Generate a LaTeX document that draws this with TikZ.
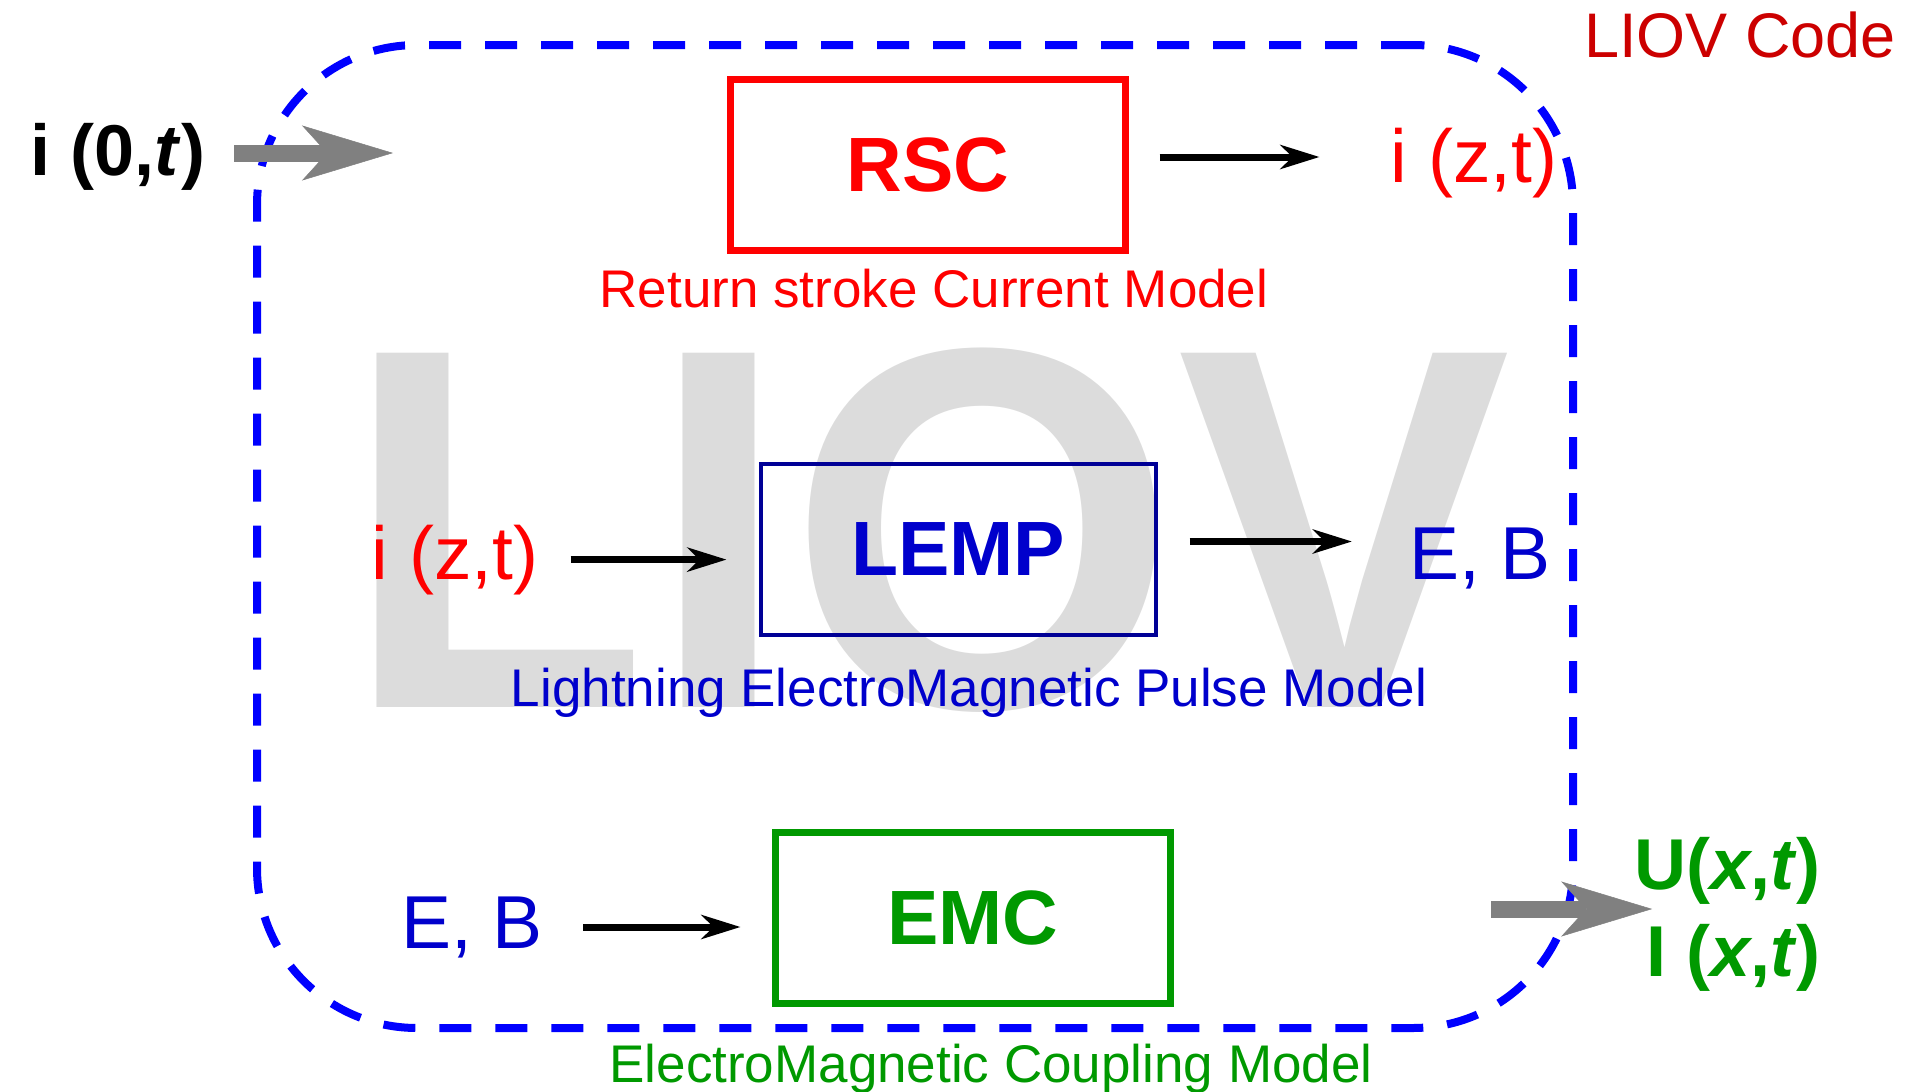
\documentclass[tikz,border=0pt]{standalone}
\usepackage{fontspec}
\setmainfont{Liberation Sans}
\usetikzlibrary{arrows.meta}

\definecolor{liovblue}{RGB}{0,0,255}
\definecolor{lempnavy}{RGB}{0,0,150}
\definecolor{lempblue}{RGB}{0,0,204}
\definecolor{emcgreen}{RGB}{0,153,0}
\definecolor{codered}{RGB}{204,0,0}
\definecolor{liovgray}{RGB}{220,220,220}
\definecolor{arrowgray}{RGB}{128,128,128}

\tikzset{
  modelbox/.style={draw,line width=7pt,minimum width=395pt,minimum height=171pt,
    inner sep=0pt,outer sep=0pt,font=\fontsize{77}{77}\selectfont\bfseries},
  caption/.style={anchor=base,inner sep=0pt,font=\fontsize{53}{53}\selectfont},
  signal/.style={anchor=base,inner sep=0pt,font=\fontsize{75}{75}\selectfont},
  flow/.style={line width=7pt,-{Stealth[length=39pt,width=24pt,inset=12pt]}},
  bigflow/.style={arrowgray,line width=17pt,
    -{Stealth[length=91pt,width=55pt,inset=25pt,line width=0.5pt]}}
}

\begin{document}
\begin{tikzpicture}[x=1pt,y=-1pt]
  \useasboundingbox (0,0) rectangle (1909,1092);

  % Watermark
  \node[anchor=base,inner sep=0pt,text=liovgray,font=\fontsize{500}{500}\selectfont\bfseries]
    (watermark) at (927,707) {\scalebox{1}[1.03]{LIOV}};

  % LIOV code frame
  \node[draw=liovblue,line width=8pt,dash pattern=on 32pt off 24pt,rounded corners=160pt,
    minimum width=1316pt,minimum height=983pt,inner sep=0pt] (liov) at (915,536.5) {};
  \node[anchor=base,inner sep=0pt,text=codered,font=\fontsize{63}{63}\selectfont]
    (liovlabel) at (1740,57) {LIOV Code};

  % Return stroke current model
  \node[modelbox,red] (rsc) at (928,165) {RSC};
  \node[caption,red] (rsclabel) at (934,307) {Return stroke Current Model};
  \node[signal,red] (izttop) at (1474,182) {i (z,t)};
  \draw[flow,shorten <=34pt,shorten >=71pt] ([yshift=8pt]rsc.east) -- ([yshift=8pt]rsc.east -| izttop.west);

  % LEMP model
  \node[modelbox,draw=lempnavy,line width=4pt,text=lempblue] (lemp) at (958,549.5) {LEMP};
  \node[caption,text=lempblue] (lemplabel) at (969,706) {Lightning ElectroMagnetic Pulse Model};
  \node[signal,red] (iztleft) at (455,579) {i (z,t)};
  \node[signal,text=lempblue] (ebright) at (1480,579) {E, B};
  \draw[flow,shorten <=32pt,shorten >=34pt] (iztleft) -- (iztleft -| lemp.west);
  \draw[flow,shorten <=34pt,shorten >=57pt] ([yshift=8pt]lemp.east) -- ([yshift=8pt]lemp.east -| ebright.west);

  % Coupling model
  \node[modelbox,emcgreen] (emc) at (973,917.5) {EMC};
  \node[caption,emcgreen] (emclabel) at (991,1082) {ElectroMagnetic Coupling Model};
  \node[signal,text=lempblue] (ebleft) at (472,948) {E, B};
  \draw[flow,shorten <=40pt,shorten >=35pt] (ebleft) -- (ebleft -| emc.west);

  % Input and output
  \node[anchor=base,inner sep=0pt,font=\fontsize{72}{72}\selectfont\bfseries]
    (i0t) at (118,175) {i (0,\textit{t})};
  \node[anchor=east,align=right,inner sep=0pt,text=emcgreen,font=\fontsize{72}{87}\selectfont\bfseries]
    (out) at (1821,914) {U(\textit{x},\textit{t})\\I (\textit{x},\textit{t})};
  \coordinate (liovin) at (393,153);
  \coordinate (liovout) at (1491,909);
  \draw[bigflow,shorten <=29pt] (i0t.east |- liovin) -- (liovin);
  \draw[bigflow,shorten >=-18pt] (liovout) -- (liovout -| out.west);
\end{tikzpicture}
\end{document}
